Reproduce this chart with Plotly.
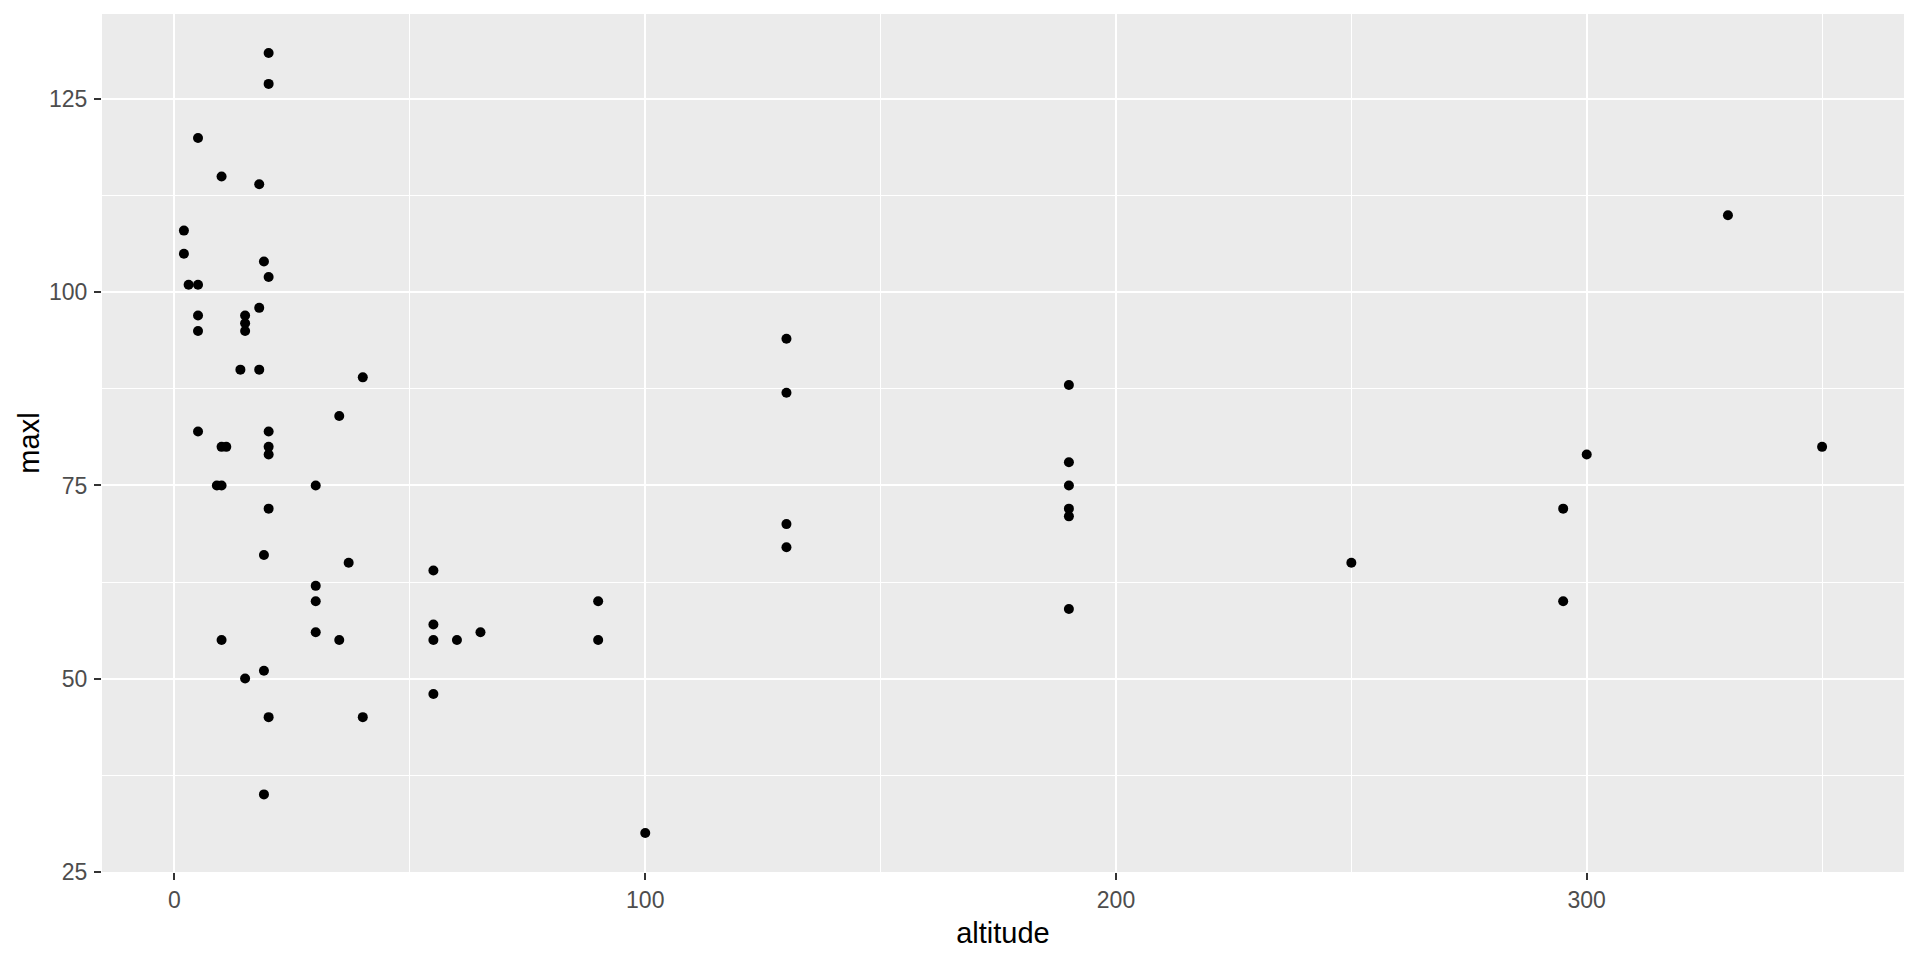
import plotly.graph_objects as go

# altitude / maxl pairs
altitude = [2, 2, 3, 5, 5, 5, 5, 5, 9, 10, 10, 11, 10, 10, 14, 15, 15, 15, 15,
            18, 18, 18, 19, 19, 19, 19, 20, 20, 20, 20, 20, 20, 20, 20,
            30, 30, 30, 30, 35, 35, 37, 40, 40, 55, 55, 55, 55, 60, 65,
            90, 90, 100, 130, 130, 130, 130, 190, 190, 190, 190, 190, 190,
            250, 295, 295, 300, 330, 350]
maxl = [108, 105, 101, 101, 120, 97, 95, 82, 75, 75, 80, 80, 115, 55, 90, 97, 96, 95, 50,
        114, 98, 90, 104, 66, 51, 35, 131, 127, 102, 82, 80, 79, 72, 45,
        75, 62, 60, 56, 84, 55, 65, 89, 45, 64, 57, 55, 48, 55, 56,
        60, 55, 30, 94, 87, 70, 67, 88, 78, 75, 72, 71, 59,
        65, 72, 60, 79, 110, 80]

x_ticks = [0, 100, 200, 300]
y_ticks = [25, 50, 75, 100, 125]

fig = go.Figure(go.Scatter(
    x=altitude, y=maxl, mode="markers",
    marker=dict(color="black", size=10, line=dict(width=0)),
    showlegend=False,
))

axis_common = dict(
    showline=False, zeroline=False, automargin=False,
    gridcolor="white", gridwidth=2,
    ticks="outside", ticklen=7, tickwidth=2, tickcolor="#333333",
    tickfont=dict(family="Liberation Sans, Arial, sans-serif", size=23, color="#4D4D4D"),
    title_font=dict(family="Liberation Sans, Arial, sans-serif", size=29, color="black"),
)

fig.update_layout(
    width=1920, height=960,
    paper_bgcolor="white", plot_bgcolor="#EBEBEB",
    margin=dict(l=102, r=16, t=14, b=88),
    xaxis=dict(
        range=[-15.4, 367.4], tickvals=x_ticks, title_text="altitude",
        title_standoff=11,
        minor=dict(tick0=0, dtick=50, showgrid=True, gridcolor="white", gridwidth=1, ticks=""),
        **axis_common,
    ),
    yaxis=dict(
        range=[24.95, 136.05], tickvals=y_ticks, title_text="maxl",
        title_standoff=0, ticklabelstandoff=2,
        minor=dict(tick0=25, dtick=12.5, showgrid=True, gridcolor="white", gridwidth=1, ticks=""),
        **axis_common,
    ),
)

# drop the default body margin so the figure sits at the window origin
fig.write_html("out.html", config={"displayModeBar": False},
               post_script="document.body.style.margin='0';")
